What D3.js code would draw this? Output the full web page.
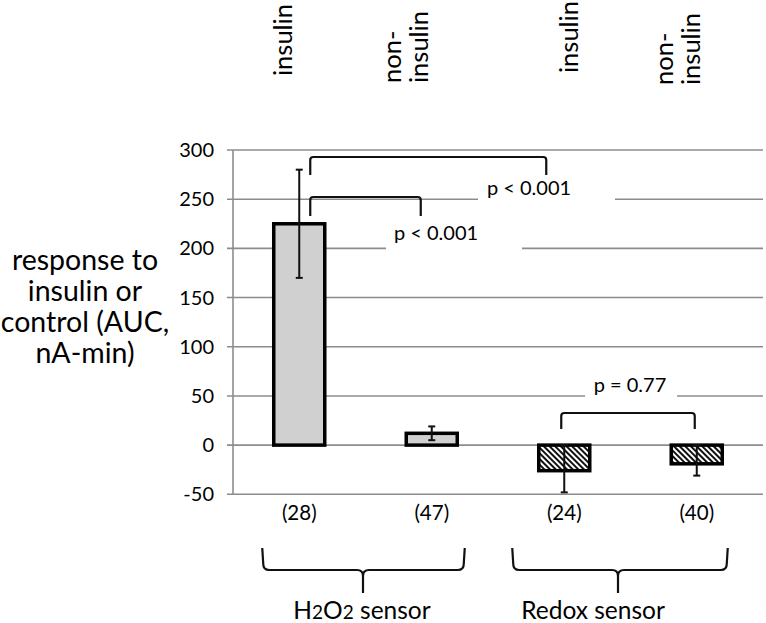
<!DOCTYPE html>
<html><head><meta charset="utf-8">
<script src="https://cdn.jsdelivr.net/npm/d3@7"></script>
<style>body{margin:0;background:#fff}svg{display:block;font-family:Lato,"Open Sans",sans-serif}</style>
</head><body><svg id="c" width="766" height="623"></svg>
<script>
// ---- data ----
const categories = ["insulin", "non-insulin", "insulin", "non-insulin"];
const topLabelLines = [["insulin"], ["non-", "insulin"], ["insulin"], ["non-", "insulin"]];
const sensorType = ["H2O2", "H2O2", "Redox", "Redox"];
const values = [225, 12, -26, -19];
const errPlus = [55, 7, 26, 19];
const errMinus = [55, 7, 22, 12];
const counts = ["(28)", "(47)", "(24)", "(40)"];
const groups = ["H2O2 sensor", "Redox sensor"];
const yTicks = [-50, 0, 50, 100, 150, 200, 250, 300];
const yTitle = ["response to", "insulin or", "control (AUC,", "nA-min)"];
const comparisons = [
  {from: 0, to: 1, label: "p < 0.001"},
  {from: 0, to: 2, label: "p < 0.001"},
  {from: 2, to: 3, label: "p = 0.77"}
];

// ---- layout ----
const svg = d3.select("#c");
const X0 = 233, X1 = 763;
const x = d3.scaleBand().domain(d3.range(categories.length)).range([X0, X1]).paddingInner(0.615).paddingOuter(0.3075);
const y = d3.scaleLinear().domain([-50, 300]).range([494.3, 150]);
const cx = i => x(i) + x.bandwidth() / 2;

// hatch pattern (wide downward diagonal)
const defs = svg.append("defs");
const pat = defs.append("pattern").attr("id", "hatch").attr("patternUnits", "userSpaceOnUse")
  .attr("width", 4).attr("height", 4).attr("patternTransform", "rotate(-45)");
pat.append("rect").attr("width", 4).attr("height", 4).attr("fill", "#fff");
pat.append("rect").attr("x", 0).attr("width", 2).attr("height", 4).attr("fill", "#111");

// gridlines
svg.append("g").selectAll("line").data(yTicks).join("line")
  .attr("x1", X0 - 6).attr("x2", X1).attr("y1", d => y(d)).attr("y2", d => y(d))
  .attr("stroke", "#8c8c8c").attr("stroke-width", 1.6);
// y axis line
svg.append("line").attr("x1", X0).attr("x2", X0).attr("y1", y(300)).attr("y2", y(-50))
  .attr("stroke", "#8c8c8c").attr("stroke-width", 1.6);
// tick labels
svg.append("g").selectAll("text").data(yTicks).join("text")
  .attr("x", X0 - 19).attr("y", d => y(d)).attr("dy", "0.35em").attr("text-anchor", "end")
  .attr("font-size", 20).attr("fill", "#000").text(d => d);

// y title
svg.append("text").attr("text-anchor", "middle").attr("font-size", 28.5).attr("fill", "#000")
  .selectAll("tspan").data(yTitle).join("tspan")
  .attr("x", 85).attr("y", (d, i) => 270 + i * 31).text(d => d);

// bars
svg.append("g").selectAll("rect").data(values).join("rect")
  .attr("x", (d, i) => x(i)).attr("width", x.bandwidth())
  .attr("y", d => y(Math.max(0, d))).attr("height", d => Math.abs(y(d) - y(0)))
  .attr("fill", (d, i) => sensorType[i] === "H2O2" ? "#d0d0d0" : "url(#hatch)")
  .attr("stroke", "#000").attr("stroke-width", 3.5);

// error bars
const eb = svg.append("g").attr("stroke", "#111").attr("stroke-width", 2);
values.forEach((v, i) => {
  const c = cx(i), hi = y(v + errPlus[i]), lo = y(v - errMinus[i]);
  eb.append("line").attr("x1", c).attr("x2", c).attr("y1", hi).attr("y2", lo);
  eb.append("line").attr("x1", c - 3.5).attr("x2", c + 3.5).attr("y1", hi).attr("y2", hi);
  eb.append("line").attr("x1", c - 3.5).attr("x2", c + 3.5).attr("y1", lo).attr("y2", lo);
});

// count labels
svg.append("g").selectAll("text").data(counts).join("text")
  .attr("x", (d, i) => cx(i)).attr("y", 520).attr("text-anchor", "middle")
  .attr("font-size", 20.5).attr("fill", "#000").text(d => d);

// top rotated labels: [dx of last baseline from bar centre, bottom y]
const topNudge = [[-7, 76], [-4, 83], [14, 73], [3, 85]];
topLabelLines.forEach((lines, i) => {
  const n = lines.length;
  lines.forEach((ln, j) => {
    const bx = cx(i) + topNudge[i][0] - (n - 1 - j) * 26.5;
    svg.append("text").attr("transform", `translate(${bx},${topNudge[i][1]}) rotate(-90)`)
      .attr("font-size", 25.5).attr("fill", "#000").text(ln);
  });
});

// bracket geometry
const brGeom = [
  {top: 197, leftBot: 216, rightBot: 216, dl: 11, dr: -11},
  {top: 157, leftBot: 175, rightBot: 175, dl: 11, dr: -18},
  {top: 413, leftBot: 429, rightBot: 429, dl: -3, dr: -2}
];
// white label boxes
[[386, 214, 136, 38], [478, 172, 137, 33], [585, 368, 92, 31]].forEach(b => {
  svg.append("rect").attr("x", b[0]).attr("y", b[1]).attr("width", b[2]).attr("height", b[3]).attr("fill", "#fff");
});
const pText = [[436, 240], [529, 195], [630, 392]];
comparisons.forEach((c, k) => {
  const g = brGeom[k];
  const xa = cx(c.from) + g.dl, xb = cx(c.to) + g.dr, r = 3;
  const p = d3.path();
  p.moveTo(xa, g.leftBot); p.lineTo(xa, g.top + r); p.quadraticCurveTo(xa, g.top, xa + r, g.top);
  p.lineTo(xb - r, g.top); p.quadraticCurveTo(xb, g.top, xb, g.top + r); p.lineTo(xb, g.rightBot);
  svg.append("path").attr("d", p.toString()).attr("fill", "none").attr("stroke", "#111").attr("stroke-width", 2.2);
  svg.append("text").attr("x", pText[k][0]).attr("y", pText[k][1]).attr("text-anchor", "middle")
    .attr("font-size", 20).attr("fill", "#000").text(c.label);
});

// braces for groups
const braceGeom = [
  {a: cx(0) - 37, b: cx(1) + 33, m: 363},
  {a: cx(2) - 52, b: cx(3) + 31, m: 618}
];
braceGeom.forEach(g => {
  const top = 548, mid = 570, tip = 593, r = 6;
  const p = d3.path();
  p.moveTo(g.a, top); p.lineTo(g.a + 1, mid - r); p.quadraticCurveTo(g.a + 1, mid, g.a + 1 + r, mid);
  p.lineTo(g.m - r, mid); p.quadraticCurveTo(g.m, mid, g.m, mid + r); p.lineTo(g.m, tip);
  p.moveTo(g.m, mid + r); p.quadraticCurveTo(g.m, mid, g.m + r, mid);
  p.lineTo(g.b - 1 - r, mid); p.quadraticCurveTo(g.b - 1, mid, g.b - 1, mid - r); p.lineTo(g.b, top);
  svg.append("path").attr("d", p.toString()).attr("fill", "none").attr("stroke", "#111").attr("stroke-width", 2.2);
});
// group labels
const groupX = [362, 593];
groups.forEach((gname, i) => {
  const t = svg.append("text").attr("x", groupX[i]).attr("y", 619).attr("text-anchor", "middle")
    .attr("font-size", 24.5).attr("fill", "#000");
  if (gname.startsWith("H2O2")) {
    t.append("tspan").text("H");
    t.append("tspan").attr("font-size", 19).text("2");
    t.append("tspan").text("O");
    t.append("tspan").attr("font-size", 19).text("2");
    t.append("tspan").text(gname.slice(4));
  } else t.text(gname);
});
</script></body></html>
